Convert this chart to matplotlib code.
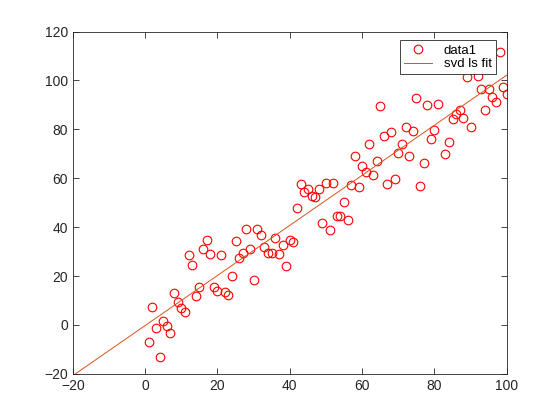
import numpy as np
import matplotlib as mpl
mpl.use('Agg')
import matplotlib.pyplot as plt

mpl.rcParams['font.family'] = ['Liberation Sans', 'DejaVu Sans']

# data (x = 1..100)
x = np.arange(1, 101)
y = [-6.8, 7.3, -1.1, -13.0, 1.7, -0.6, -3.5, 12.9, 9.2, 7.1,
     5.4, 28.5, 24.6, 11.9, 15.7, 30.9, 34.9, 29.0, 15.6, 14.0,
     28.4, 13.5, 12.1, 20.2, 34.4, 27.4, 29.6, 39.1, 31.2, 18.4,
     39.2, 36.6, 32.0, 29.6, 29.6, 35.5, 28.9, 32.8, 23.9, 34.7,
     33.9, 47.7, 57.6, 54.3, 55.4, 52.7, 52.3, 55.6, 41.6, 58.2,
     38.8, 58.2, 44.7, 44.4, 50.4, 42.9, 57.2, 69.1, 56.4, 65.1,
     62.7, 74.1, 61.4, 66.9, 89.7, 77.4, 57.6, 79.1, 59.5, 70.2,
     73.8, 80.8, 69.1, 79.5, 92.6, 56.8, 66.4, 89.8, 76.0, 79.7,
     90.2, 108.0, 69.9, 74.7, 84.2, 86.1, 87.8, 84.6, 101.3, 80.8,
     108.0, 102.0, 96.5, 87.9, 96.4, 93.1, 91.1, 111.5, 97.3, 94.5]
y = np.array(y)

# least squares fit via svd
A = np.column_stack([x, np.ones_like(x)]).astype(float)
coef, *_ = np.linalg.lstsq(A, y, rcond=None)
xfit = np.array([-20.0, 100.0])
yfit = coef[0] * xfit + coef[1]

fig = plt.figure(figsize=(5.6, 4.2), dpi=100)
ax = fig.add_axes([0.13, 0.11, 0.775, 0.815])

ax.plot(x, y, 'o', mfc='none', mec='red', ms=6.2, mew=0.8, label='data1')
ax.plot(xfit, yfit, color='#D95319', lw=0.7, label='svd ls fit')

ax.set_xlim(-20, 100)
ax.set_ylim(-20, 120)
ax.set_xticks(np.arange(-20, 101, 20))
ax.set_yticks(np.arange(-20, 121, 20))
ax.tick_params(direction='in', length=4, width=0.6, colors='#262626',
               labelsize=10, top=True, right=True, labeltop=False, labelright=False)
for s in ax.spines.values():
    s.set_linewidth(0.6)
    s.set_color('#262626')

leg = ax.legend(loc='upper right', bbox_to_anchor=(0.975, 0.974), fontsize=9.5,
                frameon=True, fancybox=False, framealpha=1, edgecolor='#262626',
                borderpad=0.3, labelspacing=0.1, handlelength=2.1, handletextpad=0.9,
                borderaxespad=0)
leg.get_frame().set_linewidth(0.6)
leg.set_zorder(5)

fig.savefig('out.png', dpi=100)
